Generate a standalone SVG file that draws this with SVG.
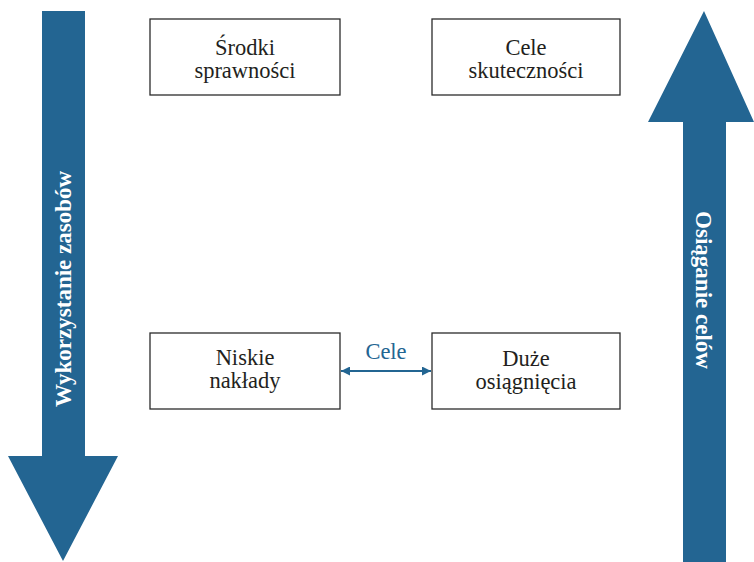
<svg xmlns="http://www.w3.org/2000/svg" width="754" height="562" viewBox="0 0 754 562" font-family="Liberation Serif">
<style>
.box{fill:#fff;stroke:#2b2b2b;stroke-width:1.3}
.big{fill:#236592}
</style>
<defs>
<marker id="ah" viewBox="0 0 10 10" refX="10" refY="5" markerWidth="9" markerHeight="9" markerUnits="userSpaceOnUse" orient="auto-start-reverse">
<path d="M0,0 L10,5 L0,10 z" fill="#236592"/>
</marker>
</defs>
<rect width="754" height="562" fill="#fff"/>
<g id="arrow-left">
<polygon class="big" points="42,11 85,11 85,456 118,456 63,561 8,456 42,456"/>
<text font-family="Liberation Serif" font-size="23" font-weight="bold" fill="#fff" text-anchor="middle" transform="translate(71,289) rotate(-90)">Wykorzystanie zasobów</text>
</g>
<g id="arrow-right">
<polygon class="big" points="683,562 726,562 726,122 754,122 704,11 648,122 683,122"/>
<text font-family="Liberation Serif" font-size="23" font-weight="bold" fill="#fff" text-anchor="middle" transform="translate(696,290) rotate(90)">Osiąganie celów</text>
</g>
<g id="node-srodki" font-family="Liberation Serif" font-size="22.5" fill="#231f20" text-anchor="middle">
<rect class="box" x="150" y="19" width="190" height="76"/>
<text x="245" y="55">Środki</text>
<text x="245" y="78">sprawności</text>
</g>
<g id="node-cele" font-family="Liberation Serif" font-size="22.5" fill="#231f20" text-anchor="middle">
<rect class="box" x="432" y="19" width="188" height="76"/>
<text x="526" y="55">Cele</text>
<text x="526" y="78">skuteczności</text>
</g>
<g id="node-niskie" font-family="Liberation Serif" font-size="22.5" fill="#231f20" text-anchor="middle">
<rect class="box" x="150" y="333" width="190" height="76"/>
<text x="245" y="365">Niskie</text>
<text x="245" y="388">nakłady</text>
</g>
<g id="node-duze" font-family="Liberation Serif" font-size="22.5" fill="#231f20" text-anchor="middle">
<rect class="box" x="432" y="333" width="188" height="76"/>
<text x="526" y="366">Duże</text>
<text x="526" y="389">osiągnięcia</text>
</g>
<g id="connectors">
<line x1="341" y1="371" x2="431" y2="371" stroke="#236592" stroke-width="2" marker-start="url(#ah)" marker-end="url(#ah)"/>
<text font-family="Liberation Serif" font-size="22.5" fill="#236592" text-anchor="middle" x="386" y="359">Cele</text>
</g>
</svg>
